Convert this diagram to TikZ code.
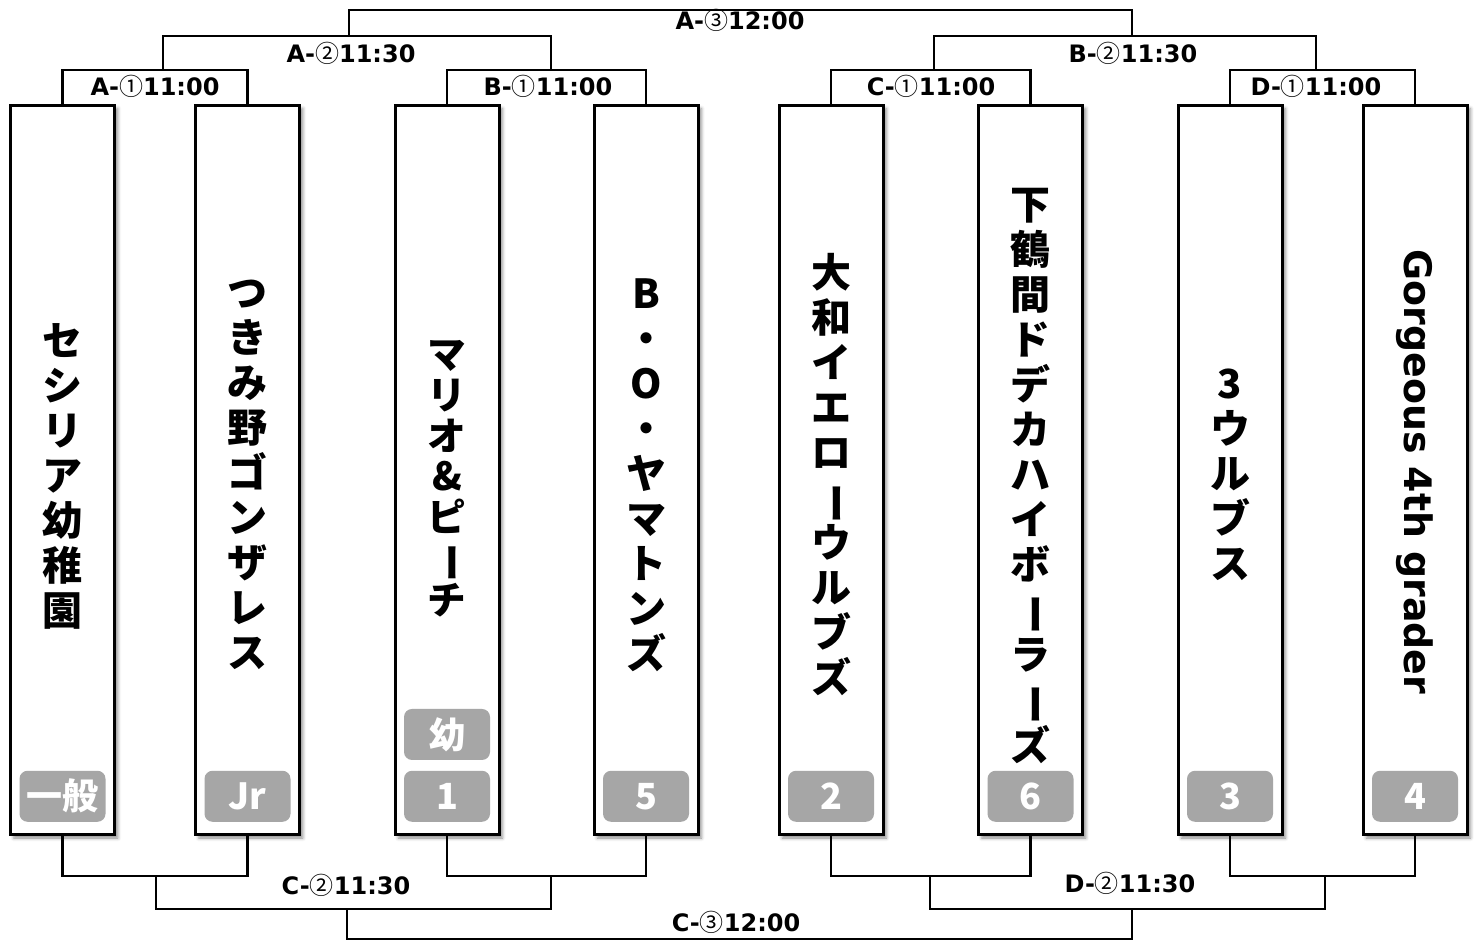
\documentclass[tikz,border=0pt]{standalone}
\usepackage{fontspec}
\usepackage{graphicx}
\setmainfont{DejaVu Sans}
\newfontfamily\jpfont{Noto Sans CJK JP}
\usetikzlibrary{positioning, shadows.blur}
\newcommand{\maru}[1]{{\jpfont\mdseries #1}}
\newcommand{\bou}{\rotatebox[origin=c]{-90}{ー}}

\begin{document}
\begin{tikzpicture}[x=0.75pt, y=-0.75pt, line width=2.1pt]
    \tikzset{
        team_box/.style={draw, line width=2.25pt, fill=white, inner sep=0pt,
            minimum width=78pt, minimum height=547pt,
            blur shadow={shadow xshift=2.5pt, shadow yshift=-2.5pt, shadow blur radius=2.5pt, shadow opacity=45}},
        team_name/.style={align=center, inner sep=0pt, font=\jpfont\bfseries\fontsize{30}{33.75}\selectfont},
        seed_badge/.style={fill=black!35, rounded corners=6pt, inner sep=0pt, text=white,
            minimum width=64.5pt, minimum height=38.25pt, font=\jpfont\bfseries\fontsize{27}{27}\selectfont},
        match_label/.style={font=\bfseries\fontsize{18}{18}\selectfont, inner sep=0pt}
    }
    \useasboundingbox (0,0) rectangle (1480,942);

    % teams
    \node[team_box] (t1) at (62.5,470) {};
    \node[team_box] (t2) at (247.5,470) {};
    \node[team_box] (t3) at (447,470) {};
    \node[team_box] (t4) at (646,470) {};
    \node[team_box] (t5) at (831,470) {};
    \node[team_box] (t6) at (1030.5,470) {};
    \node[team_box] (t7) at (1230,470) {};
    \node[team_box] (t8) at (1415,470) {};

    \node[team_name] (n1) at (62.5,476) {セ\\シ\\リ\\ア\\幼\\稚\\園};
    \node[team_name] (n2) at (247.5,475) {つ\\き\\み\\野\\ゴ\\ン\\ザ\\レ\\ス};
    \node[team_name, font=\jpfont\bfseries\fontsize{29}{30.5}\selectfont] (n3) at (447,479) {マ\\リ\\オ\\\&\\ピ\\\bou\\チ};
    \node[team_name] (n4) at (646,475) {B\\・\\O\\・\\ヤ\\マ\\ト\\ン\\ズ};
    \node[team_name] (n5) at (831,475) {大\\和\\イ\\エ\\ロ\\\bou\\ウ\\ル\\ブ\\ズ};
    \node[team_name] (n6) at (1030.5,476) {下\\鶴\\間\\ド\\デ\\カ\\ハ\\イ\\ボ\\\bou\\ラ\\\bou\\ズ};
    \node[team_name] (n7) at (1230,475) {3\\ウ\\ル\\ブ\\ス};
    \node[rotate=-90, inner sep=0pt, font=\bfseries\fontsize{28.4}{30}\selectfont] (n8) at (1415,472) {Gorgeous 4th grader};

    % badges
    \node[seed_badge, above=9.75pt of t1.south] (s1) {一般};
    \node[seed_badge, above=9.75pt of t2.south] (s2) {Jr};
    \node[seed_badge, above=9.75pt of t3.south] (s3) {1};
    \node[seed_badge, above=6pt of s3] (s3k) {幼};
    \node[seed_badge, above=9.75pt of t4.south] (s4) {5};
    \node[seed_badge, above=9.75pt of t5.south] (s5) {2};
    \node[seed_badge, above=9.75pt of t6.south] (s6) {6};
    \node[seed_badge, above=9.75pt of t7.south] (s7) {3};
    \node[seed_badge, above=9.75pt of t8.south] (s8) {4};

    % upper bracket
    \coordinate (a1) at (163,70);
    \coordinate (b1) at (551,70);
    \coordinate (c1) at (934,70);
    \coordinate (d1) at (1316,70);
    \coordinate (a2) at (349,36);
    \coordinate (b2) at (1132,36);
    \coordinate (a3) at (740,10);
    \draw (t1.north) |- (a1) -| (t2.north);
    \draw (t3.north) |- (b1) -| (t4.north);
    \draw (t5.north) |- (c1) -| (t6.north);
    \draw (t7.north) |- (d1) -| (t8.north);
    \draw (a1) |- (a2) -| (b1);
    \draw (c1) |- (b2) -| (d1);
    \draw (a2) |- (a3) -| (b2);

    % lower bracket
    \coordinate (c1b) at (156,876);
    \coordinate (c2b) at (551,876);
    \coordinate (d1b) at (930,876);
    \coordinate (d2b) at (1325,876);
    \coordinate (c2) at (347,909);
    \coordinate (d2) at (1132,909);
    \coordinate (c3) at (740,939);
    \draw (t1.south) |- (c1b) -| (t2.south);
    \draw (t3.south) |- (c2b) -| (t4.south);
    \draw (t5.south) |- (d1b) -| (t6.south);
    \draw (t7.south) |- (d2b) -| (t8.south);
    \draw (c1b) |- (c2) -| (c2b);
    \draw (d1b) |- (d2) -| (d2b);
    \draw (c2) |- (c3) -| (d2);

    % match labels
    \node[match_label] (lA1) at (155,86) {A-\maru{①}11:00};
    \node[match_label] (lB1) at (548,86) {B-\maru{①}11:00};
    \node[match_label] (lC1) at (931,86) {C-\maru{①}11:00};
    \node[match_label] (lD1) at (1316,86) {D-\maru{①}11:00};
    \node[match_label] (lA2) at (351,53) {A-\maru{②}11:30};
    \node[match_label] (lB2) at (1133,53) {B-\maru{②}11:30};
    \node[match_label] (lA3) at (740,20) {A-\maru{③}12:00};
    \node[match_label] (lC2) at (346,885) {C-\maru{②}11:30};
    \node[match_label] (lD2) at (1130,883) {D-\maru{②}11:30};
    \node[match_label] (lC3) at (736,922) {C-\maru{③}12:00};
\end{tikzpicture}
\end{document}
